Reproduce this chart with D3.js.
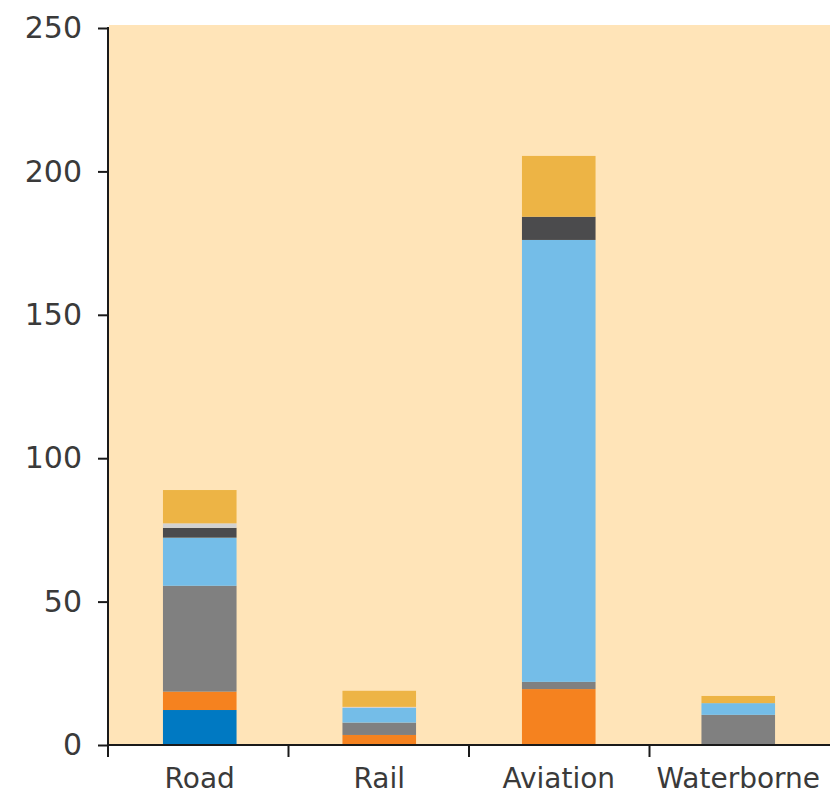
<!DOCTYPE html>
<html><head><meta charset="utf-8">
<script src="https://cdn.jsdelivr.net/npm/d3@7"></script>
<style>body{margin:0;background:#fff}svg{display:block}</style>
</head><body>
<svg id="chart" width="830" height="795"></svg>
<script>
const categories = ["Road", "Rail", "Aviation", "Waterborne"];
const seriesNames = ["S1", "S2", "S3", "S4", "S5", "S6", "S7"];
const seriesColors = ["#0079c2", "#f5821f", "#808080", "#74bde8", "#4b4b4d", "#d2d2d2", "#edb445"];
const s1 = [12.2, 0, 0, 0];
const s2 = [6.4, 3.5, 19.5, 0];
const s3 = [36.9, 4.3, 2.5, 10.5];
const s4 = [16.8, 5.1, 154.1, 4.1];
const s5 = [3.4, 0, 8.1, 0];
const s6 = [1.6, 0.4, 0, 0];
const s7 = [11.6, 5.6, 21.2, 2.5];
const yTicks = [0, 50, 100, 150, 200, 250];

const seriesValues = [s1, s2, s3, s4, s5, s6, s7];
const table = categories.map((c, i) => {
  const row = {category: c};
  seriesNames.forEach((n, j) => row[n] = seriesValues[j][i]);
  return row;
});

const svg = d3.select("#chart");
const y = d3.scaleLinear().domain([0, 250]).range([745, 28]);
const xSlots = d3.scaleBand().domain(categories).range([108, 830]).padding(0);
const xBars = d3.scaleBand().domain(categories).range([110, 828]).paddingInner(0.59).paddingOuter(0.295);

// background
svg.append("rect").attr("x", 109).attr("y", 25).attr("width", 830 - 109).attr("height", 745 - 25)
  .attr("fill", "#ffe4b8");

const stack = d3.stack().keys(seriesNames)(table);
svg.append("g").selectAll("g").data(stack).join("g")
  .attr("fill", (d, i) => seriesColors[i])
  .selectAll("rect").data(d => d).join("rect")
  .attr("x", d => xBars(d.data.category))
  .attr("width", xBars.bandwidth())
  .attr("y", d => y(d[1]))
  .attr("height", d => Math.max(0, y(d[0]) - y(d[1])));

// y axis
const yAxis = svg.append("g").attr("transform", "translate(108,0)")
  .call(d3.axisLeft(y).tickValues(yTicks).tickSize(10).tickPadding(16));
yAxis.select(".domain").remove();
yAxis.selectAll(".tick line").attr("stroke", "#1a1a1a").attr("stroke-width", 2);
yAxis.selectAll("text").attr("font-family", "DejaVu Sans").attr("font-size", 30).attr("fill", "#3a3a3a");
svg.append("line").attr("x1", 108).attr("x2", 108).attr("y1", y(250) - 1).attr("y2", 746)
  .attr("stroke", "#1a1a1a").attr("stroke-width", 2);

// x axis
svg.append("line").attr("x1", 107).attr("x2", 830).attr("y1", 745).attr("y2", 745)
  .attr("stroke", "#1a1a1a").attr("stroke-width", 2);
svg.append("g").selectAll("line").data(categories).join("line")
  .attr("x1", d => xSlots(d)).attr("x2", d => xSlots(d))
  .attr("y1", 745).attr("y2", 757)
  .attr("stroke", "#1a1a1a").attr("stroke-width", 2);
svg.append("g").selectAll("text").data(categories).join("text")
  .attr("x", d => xBars(d) + xBars.bandwidth() / 2)
  .attr("y", 788)
  .attr("text-anchor", "middle")
  .attr("font-family", "DejaVu Sans").attr("font-size", 28).attr("fill", "#3a3a3a")
  .text(d => d);
</script>
</body></html>
